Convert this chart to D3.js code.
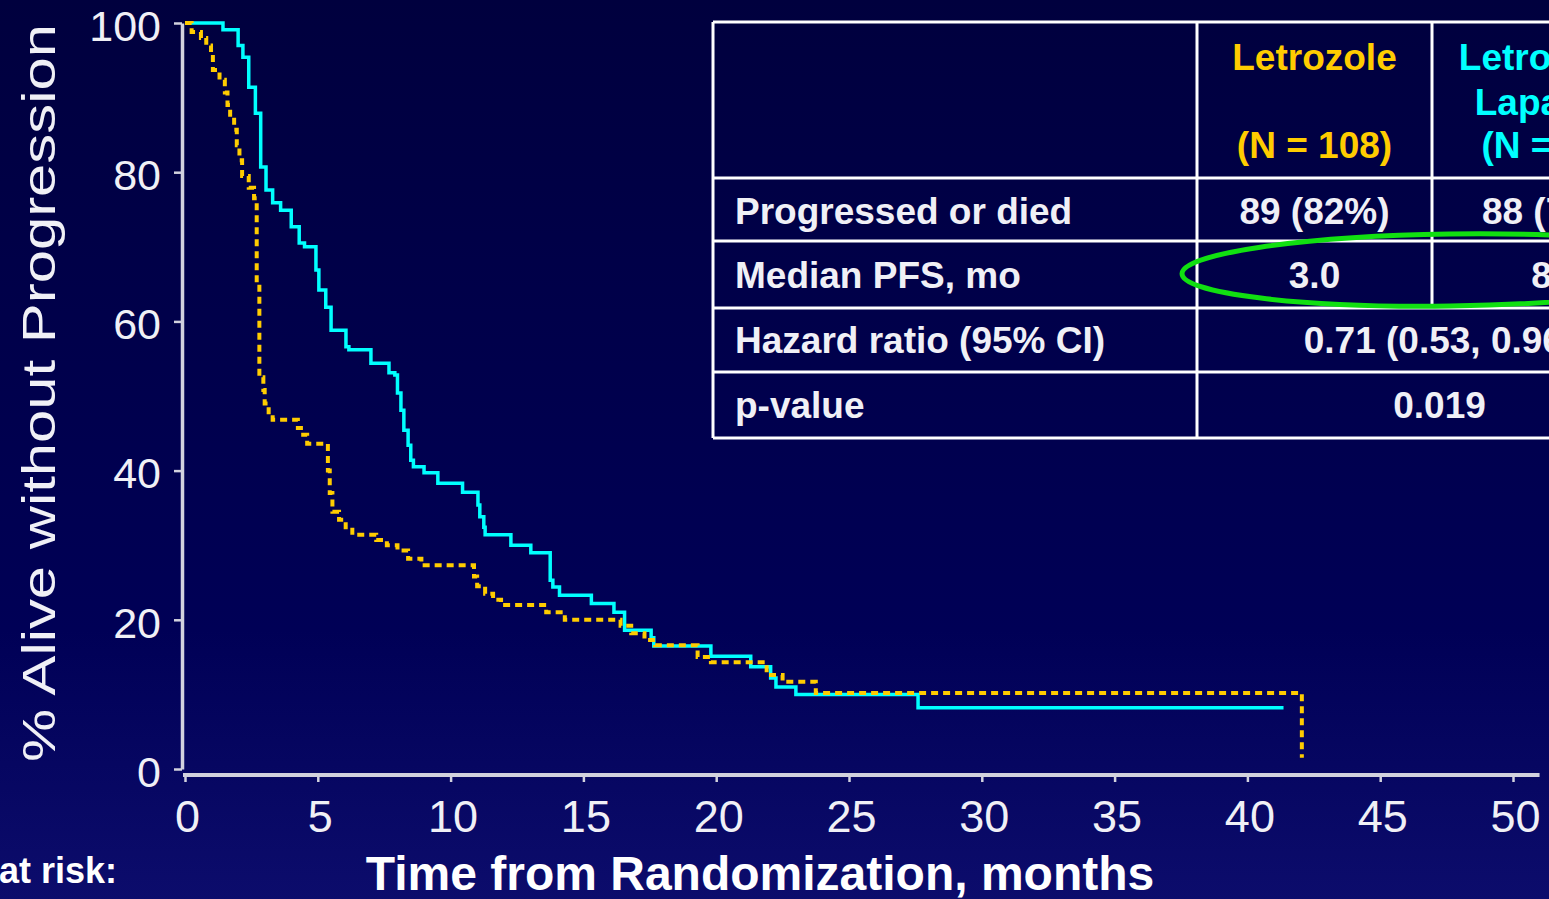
<!DOCTYPE html>
<html>
<head>
<meta charset="utf-8">
<script src="https://cdn.jsdelivr.net/npm/d3@7"></script>
<style>
  html, body { margin: 0; padding: 0; background: #000044; overflow: hidden; }
  svg { display: block; font-family: "Liberation Sans", Arial, Helvetica, sans-serif; }
</style>
</head>
<body>
<svg id="chart" width="1549" height="899"></svg>
<script>
// axis ticks
const monthTicks = [0, 5, 10, 15, 20, 25, 30, 35, 40, 45, 50];
const percentTicks = [0, 20, 40, 60, 80, 100];

// Kaplan-Meier steps (month, % alive without progression)
const letrozoleMonths = [0, 0.25, 0.6, 0.8, 0.98, 1.05, 1.3, 1.5, 1.6, 1.7, 1.85, 1.95, 2.05, 2.15, 2.4, 2.6,
    2.7, 2.8, 2.95, 3.0, 3.15, 3.3, 4.25, 4.45, 4.6, 5.38, 5.45, 5.55, 5.8, 6.05, 6.3, 7.2, 7.6, 8.0, 8.4, 8.9,
    10.88, 11.0, 11.3, 11.6, 11.9, 13.6, 14.3, 16.4, 16.8, 17.3, 17.7, 19.3, 19.8, 21.9, 22.5, 23.75, 42.05];
const letrozolePct = [100, 98.8, 98.0, 97.0, 95.7, 93.7, 92.4, 90.7, 89.0, 87.3, 85.7, 83.6, 81.6, 79.5, 77.9, 76.5,
    65, 52.5, 50.8, 49, 47.5, 46.8, 45.7, 44.8, 43.6, 40, 37, 34.5, 33.4, 32.4, 31.4, 30.7, 30.0, 29.3, 28.2, 27.3,
    25.8, 24.5, 23.5, 22.7, 22.0, 21.0, 20.0, 19.2, 18.2, 17.3, 16.6, 15.0, 14.3, 12.6, 11.7, 10.2, 1.5];

const comboMonths = [0, 1.43, 2.0, 2.18, 2.4, 2.65, 2.85, 3.05, 3.3, 3.6, 4.0, 4.3, 4.5, 4.93, 5.04, 5.3, 5.5,
    6.06, 6.17, 7.0, 7.68, 7.9, 8.0, 8.13, 8.24, 8.4, 8.5, 8.6, 9.0, 9.52, 10.45, 11.03, 11.1, 11.25, 11.3, 12.27,
    13.02, 13.75, 13.85, 14.1, 15.3, 16.15, 16.55, 17.55, 17.65, 19.8, 21.3, 22.05, 22.25, 23.0, 27.6, 41.36];
const comboPct = [100, 99.1, 97.0, 95.4, 91.4, 87.9, 80.7, 77.6, 75.9, 74.9, 72.7, 70.5, 70.0, 66.9, 64.2, 61.9, 58.8,
    56.6, 56.2, 54.4, 53.1, 52.8, 50.4, 48.1, 45.4, 43.4, 41.4, 40.5, 39.7, 38.3, 37.1, 35.4, 33.8, 32.4, 31.4, 30.0,
    29.0, 25.3, 24.4, 23.3, 22.2, 21.0, 18.6, 17.6, 16.5, 15.1, 13.7, 12.2, 11.0, 10.0, 8.2, 8.2];

// summary table
const headerLetrozole = ["Letrozole", "", "(N = 108)"];
const headerCombo = ["Letrozole +", "Lapatinib", "(N = 111)"];
const rowLabels = ["Progressed or died", "Median PFS, mo", "Hazard ratio (95% CI)", "p-value"];
const letrozoleCells = ["89 (82%)", "3.0"];
const comboCells = ["88 (79%)", "8.2"];
const sharedCells = ["0.71 (0.53, 0.96)", "0.019"];

const W = 1549, H = 899;
const yellow = "#ffcc00", cyan = "#00ffff", axisColor = "#d2d2de", textColor = "#f0f0f6";

const svg = d3.select("#chart");

// background
const grad = svg.append("defs").append("linearGradient")
    .attr("id", "bg").attr("x1", 0).attr("y1", 0).attr("x2", 0).attr("y2", 1);
grad.append("stop").attr("offset", "0%").attr("stop-color", "#00003e");
grad.append("stop").attr("offset", "70%").attr("stop-color", "#000056");
grad.append("stop").attr("offset", "100%").attr("stop-color", "#0c0c6c");
svg.append("rect").attr("width", W).attr("height", H).attr("fill", "url(#bg)");

const x = d3.scaleLinear().domain([0, 50]).range([185, 1513]);
const y = d3.scaleLinear().domain([0, 100]).range([769, 23]);

// x axis
const xAxis = svg.append("g")
    .attr("transform", "translate(0, 775)")
    .call(d3.axisBottom(x).tickValues(monthTicks).tickSize(7).tickPadding(18).tickSizeOuter(0));
xAxis.select(".domain").remove();
xAxis.append("line")
    .attr("x1", x(0) - 2).attr("x2", x(51))
    .attr("stroke", axisColor).attr("stroke-width", 4);
xAxis.selectAll(".tick line").attr("stroke", axisColor).attr("stroke-width", 2.5);
xAxis.selectAll(".tick text")
    .attr("fill", textColor).attr("font-size", 45).attr("font-family", null)
    .attr("dx", 2);

// y axis
const yAxis = svg.append("g")
    .attr("transform", "translate(182, 0)")
    .call(d3.axisLeft(y).tickValues(percentTicks).tickSize(8).tickPadding(13).tickSizeOuter(0));
yAxis.select(".domain").attr("stroke", axisColor).attr("stroke-width", 3.5);
yAxis.selectAll(".tick line").attr("stroke", axisColor).attr("stroke-width", 2.5);
yAxis.selectAll(".tick text")
    .attr("fill", textColor).attr("font-size", 43).attr("font-family", null)
    .attr("dy", "0.4em");

// axis titles
svg.append("text")
    .attr("transform", "translate(55, 393) rotate(-90)")
    .attr("text-anchor", "middle")
    .attr("font-size", 46)
    .attr("fill", textColor)
    .attr("textLength", 738)
    .attr("lengthAdjust", "spacingAndGlyphs")
    .text("% Alive without Progression");

svg.append("text")
    .attr("x", 760).attr("y", 890)
    .attr("text-anchor", "middle")
    .attr("font-size", 48).attr("font-weight", "bold")
    .attr("fill", "#ffffff")
    .text("Time from Randomization, months");

svg.append("text")
    .attr("x", 117).attr("y", 883)
    .attr("text-anchor", "end")
    .attr("font-size", 36).attr("font-weight", "bold")
    .attr("fill", "#ffffff")
    .text("No. at risk:");

// curves
const km = d3.line()
    .x(d => x(d[0]))
    .y(d => y(d[1]))
    .curve(d3.curveStepAfter);

svg.append("path")
    .datum(d3.zip(comboMonths, comboPct))
    .attr("d", km)
    .attr("fill", "none")
    .attr("stroke", cyan)
    .attr("stroke-width", 3.5);

svg.append("path")
    .datum(d3.zip(letrozoleMonths, letrozolePct))
    .attr("d", km)
    .attr("fill", "none")
    .attr("stroke", yellow)
    .attr("stroke-width", 4)
    .attr("stroke-dasharray", "7,5");

// table
const colX = [713, 1197, 1432, 1682];
const rowY = [22, 178, 241, 308, 372, 438];
const table = svg.append("g").attr("font-size", 37).attr("font-weight", "bold");

const hLines = rowY.map(ry => [colX[0], ry, W + 10, ry]);
const vLines = [[colX[0], rowY[0], colX[0], rowY[5]],
                [colX[1], rowY[0], colX[1], rowY[5]],
                [colX[2], rowY[0], colX[2], rowY[3]]];
table.selectAll("line.grid")
    .data(hLines.concat(vLines))
    .join("line")
    .attr("class", "grid")
    .attr("x1", d => d[0]).attr("y1", d => d[1])
    .attr("x2", d => d[2]).attr("y2", d => d[3])
    .attr("stroke", "#ffffff")
    .attr("stroke-width", 3);

const headerBase = [70, 115, 158];
const mid2 = (colX[1] + colX[2]) / 2, mid3 = (colX[2] + colX[3]) / 2, mid23 = (colX[1] + colX[3]) / 2;

table.selectAll("text.hl")
    .data(headerLetrozole)
    .join("text")
    .attr("class", "hl")
    .attr("x", mid2).attr("y", (d, i) => headerBase[i])
    .attr("text-anchor", "middle").attr("fill", yellow)
    .text(d => d);

table.selectAll("text.hc")
    .data(headerCombo)
    .join("text")
    .attr("class", "hc")
    .attr("x", mid3).attr("y", (d, i) => headerBase[i])
    .attr("text-anchor", "middle").attr("fill", cyan)
    .text(d => d);

const rowBase = [224, 288, 353, 418];
table.selectAll("text.rl")
    .data(rowLabels)
    .join("text")
    .attr("class", "rl")
    .attr("x", 735).attr("y", (d, i) => rowBase[i])
    .attr("fill", textColor)
    .text(d => d);

table.selectAll("text.c2")
    .data(letrozoleCells)
    .join("text")
    .attr("class", "c2")
    .attr("x", mid2).attr("y", (d, i) => rowBase[i])
    .attr("text-anchor", "middle").attr("fill", textColor)
    .text(d => d);

table.selectAll("text.c3")
    .data(comboCells)
    .join("text")
    .attr("class", "c3")
    .attr("x", mid3).attr("y", (d, i) => rowBase[i])
    .attr("text-anchor", "middle").attr("fill", textColor)
    .text(d => d);

table.selectAll("text.c23")
    .data(sharedCells)
    .join("text")
    .attr("class", "c23")
    .attr("x", mid23).attr("y", (d, i) => rowBase[i + 2])
    .attr("text-anchor", "middle").attr("fill", textColor)
    .text(d => d);

// highlight round the median PFS row
svg.append("ellipse")
    .attr("cx", 1450).attr("cy", 270)
    .attr("rx", 268).attr("ry", 36)
    .attr("transform", "rotate(-0.8 1450 270)")
    .attr("fill", "none")
    .attr("stroke", "#11e011")
    .attr("stroke-width", 5);
</script>
</body>
</html>
